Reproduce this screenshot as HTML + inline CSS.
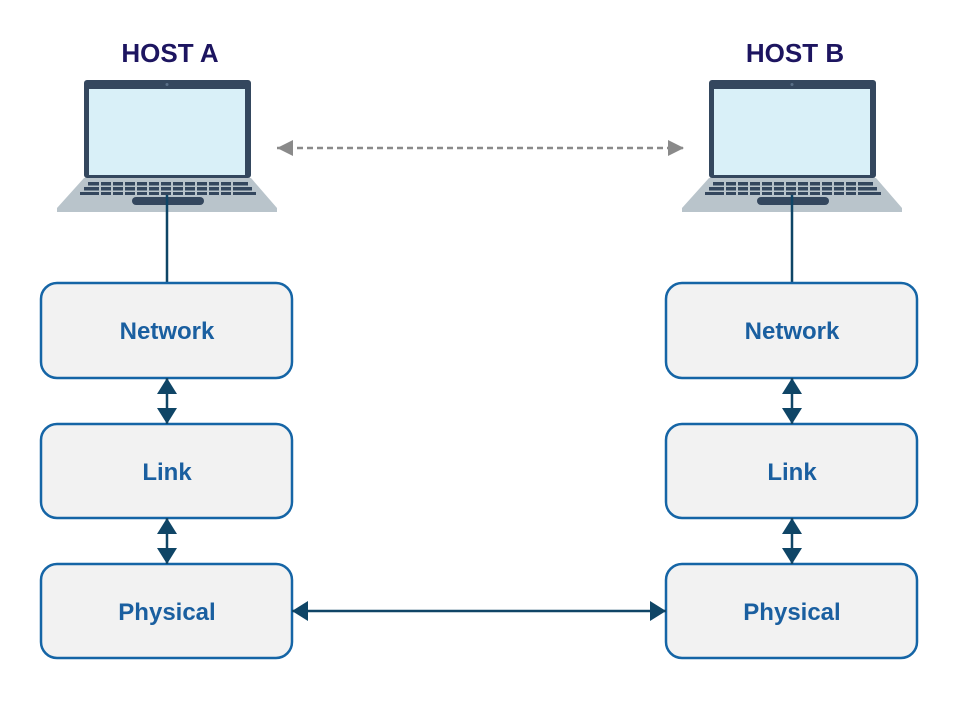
<!DOCTYPE html>
<html><head><style>
body{margin:0;background:#fff;width:964px;height:698px;overflow:hidden;font-family:"Liberation Sans",sans-serif}
</style></head><body>
<svg width="964" height="698" viewBox="0 0 964 698" xmlns="http://www.w3.org/2000/svg">
<defs>
<marker id="bh" markerWidth="16" markerHeight="20" refX="16" refY="10" orient="auto-start-reverse" markerUnits="userSpaceOnUse"><path d="M0,0 L16,10 L0,20 z" fill="#0f4566"/></marker>
<marker id="gh" markerWidth="16" markerHeight="16" refX="16" refY="8" orient="auto-start-reverse" markerUnits="userSpaceOnUse"><path d="M0,0 L16,8 L0,16 z" fill="#8a8a8a"/></marker>
<g id="lap">
<rect x="84" y="80" width="167" height="98" rx="3" fill="#34475e"/>
<rect x="89" y="89" width="156" height="86" fill="#d9f0f8"/>
<circle cx="167" cy="84.5" r="1.5" fill="#5a7088"/>
<path d="M84,178 L251,178 L277,208 L277,212 L57,212 L57,208 Z" fill="#b9c4cb"/>
<g fill="#34475e">
<rect x="88" y="182" width="160" height="3.5"/>
<rect x="84" y="187" width="168" height="3.5"/>
<rect x="80" y="192" width="176" height="3"/>
</g>
<g stroke="#b9c4cb" stroke-width="2">
<path d="M100,181V196M112,181V196M124,181V196M136,181V196M148,181V196M160,181V196M172,181V196M184,181V196M196,181V196M208,181V196M220,181V196M232,181V196"/>
</g>
<rect x="132" y="197" width="72" height="8" rx="4" fill="#34475e"/>
</g>
</defs>
<text x="170" y="62" font-size="26" font-weight="bold" fill="#1d1560" text-anchor="middle">HOST A</text>
<text x="795" y="62" font-size="26" font-weight="bold" fill="#1d1560" text-anchor="middle">HOST B</text>
<use href="#lap"/>
<use href="#lap" x="625"/>
<line x1="167" y1="195" x2="167" y2="283" stroke="#0f4566" stroke-width="2.5"/>
<line x1="792" y1="195" x2="792" y2="283" stroke="#0f4566" stroke-width="2.5"/>
<line x1="277" y1="148" x2="684" y2="148" stroke="#8a8a8a" stroke-width="2.5" stroke-dasharray="6,4" marker-start="url(#gh)" marker-end="url(#gh)"/>
<g fill="#f2f2f2" stroke="#1565a6" stroke-width="2.5">
<rect x="41" y="283" width="251" height="95" rx="16"/>
<rect x="41" y="424" width="251" height="94" rx="16"/>
<rect x="41" y="564" width="251" height="94" rx="16"/>
<rect x="666" y="283" width="251" height="95" rx="16"/>
<rect x="666" y="424" width="251" height="94" rx="16"/>
<rect x="666" y="564" width="251" height="94" rx="16"/>
</g>
<g font-size="24" font-weight="bold" fill="#1a5fa0" text-anchor="middle">
<text x="167" y="339">Network</text>
<text x="167" y="480">Link</text>
<text x="167" y="620">Physical</text>
<text x="792" y="339">Network</text>
<text x="792" y="480">Link</text>
<text x="792" y="620">Physical</text>
</g>
<g stroke="#0f4566" stroke-width="2.5" marker-start="url(#bh)" marker-end="url(#bh)">
<line x1="167" y1="378" x2="167" y2="424"/>
<line x1="167" y1="518" x2="167" y2="564"/>
<line x1="792" y1="378" x2="792" y2="424"/>
<line x1="792" y1="518" x2="792" y2="564"/>
<line x1="292" y1="611" x2="666" y2="611"/>
</g>
</svg>
</body></html>
